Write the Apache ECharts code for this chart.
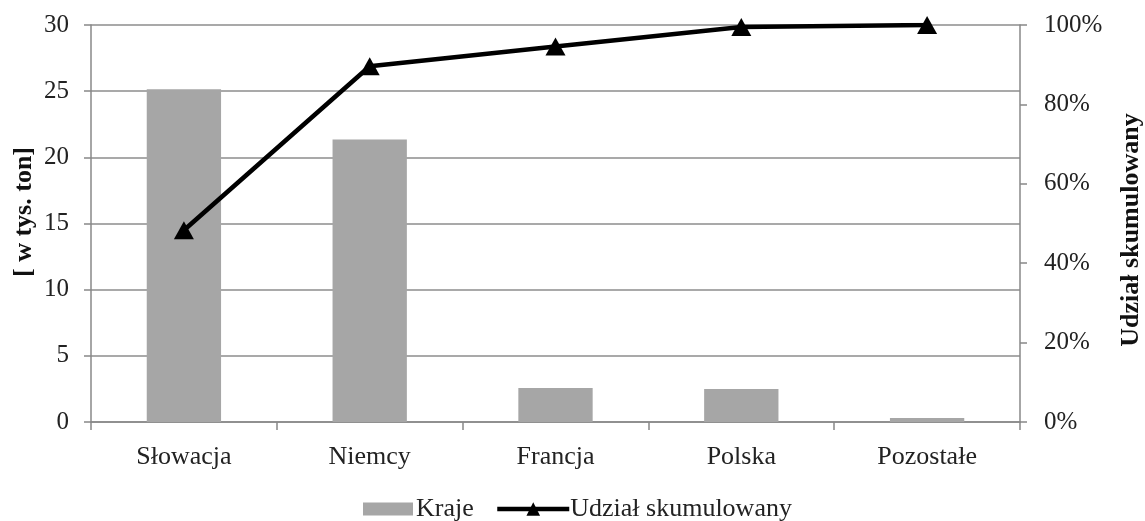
<!DOCTYPE html>
<html>
<head>
<meta charset="utf-8">
<script src="https://cdn.jsdelivr.net/npm/echarts@6/dist/echarts.min.js"></script>
<style>
  html, body { margin: 0; padding: 0; background: #ffffff; }
  #chart { width: 1145px; height: 521px; }
</style>
</head>
<body>
<div id="chart"></div>
<script>
// Countries and their volumes (thousand tonnes)
const categories = ['Słowacja', 'Niemcy', 'Francja', 'Polska', 'Pozostałe'];
const volumes = [25.15, 21.35, 2.57, 2.49, 0.3];
// Cumulative share, percent
const cumulativeShare = [48.3, 89.6, 94.6, 99.5, 100];

const FONT = '"Liberation Serif", "Times New Roman", serif';
const AXIS_GREY = '#888888';
const GRID_GREY = '#8c8c8c';

const chart = echarts.init(document.getElementById('chart'), null, { renderer: 'canvas' });

chart.setOption({
  animation: false,
  backgroundColor: '#ffffff',
  grid: { left: 91, right: 125, top: 25, bottom: 99, containLabel: false },
  xAxis: {
    type: 'category',
    data: categories,
    boundaryGap: true,
    axisLine: { lineStyle: { color: AXIS_GREY, width: 1.5 } },
    axisTick: { show: true, interval: 0, length: 8, lineStyle: { color: AXIS_GREY, width: 1.5 } },
    axisLabel: { color: '#222', fontFamily: FONT, fontSize: 26, margin: 22, interval: 0 }
  },
  yAxis: [
    {
      type: 'value',
      min: 0, max: 30, interval: 5,
      axisLine: { show: true, lineStyle: { color: AXIS_GREY, width: 1.5 } },
      axisTick: { show: true, length: 7, lineStyle: { color: AXIS_GREY, width: 1.5 } },
      axisLabel: { color: '#222', fontFamily: FONT, fontSize: 25, margin: 22 },
      splitLine: { show: true, lineStyle: { color: GRID_GREY, width: 1.5 } }
    },
    {
      type: 'value',
      min: 0, max: 100, interval: 20,
      position: 'right',
      axisLine: { show: true, lineStyle: { color: AXIS_GREY, width: 1.5 } },
      axisTick: { show: true, length: 7, lineStyle: { color: AXIS_GREY, width: 1.5 } },
      axisLabel: { color: '#222', fontFamily: FONT, fontSize: 25, margin: 24, formatter: '{value}%' },
      splitLine: { show: false }
    }
  ],
  legend: [
    {
      data: ['Kraje'],
      left: 363, top: 496,
      padding: 0,
      itemWidth: 50, itemHeight: 13,
      textStyle: { color: '#222', fontFamily: FONT, fontSize: 26, padding: [0, 0, 0, -2] },
      icon: 'rect'
    },
    {
      data: ['Udział skumulowany'],
      left: 495, top: 496,
      padding: 0,
      itemWidth: 72, itemHeight: 17,
      lineStyle: { width: 4.5, color: '#000' },
      textStyle: { color: '#222', fontFamily: FONT, fontSize: 26, padding: [0, 0, 0, -4] }
    }
  ],
  graphic: [
    {
      type: 'text',
      x: 24, y: 212,
      rotation: Math.PI / 2,
      style: {
        text: '[ w tys. ton]',
        font: 'bold 26px ' + FONT,
        fill: '#111',
        align: 'center',
        verticalAlign: 'middle'
      }
    },
    {
      type: 'text',
      x: 1131, y: 230,
      rotation: Math.PI / 2,
      style: {
        text: 'Udział skumulowany',
        font: 'bold 26px ' + FONT,
        fill: '#111',
        align: 'center',
        verticalAlign: 'middle'
      }
    }
  ],
  series: [
    {
      name: 'Kraje',
      type: 'bar',
      data: volumes,
      barWidth: '40%',
      itemStyle: { color: '#a6a6a6' },
      yAxisIndex: 0,
      z: 2
    },
    {
      name: 'Udział skumulowany',
      type: 'line',
      data: cumulativeShare,
      yAxisIndex: 1,
      symbol: 'triangle',
      symbolSize: [20, 18],
      lineStyle: { color: '#000', width: 4.5 },
      itemStyle: { color: '#000' },
      z: 3
    }
  ]
});
</script>
</body>
</html>
